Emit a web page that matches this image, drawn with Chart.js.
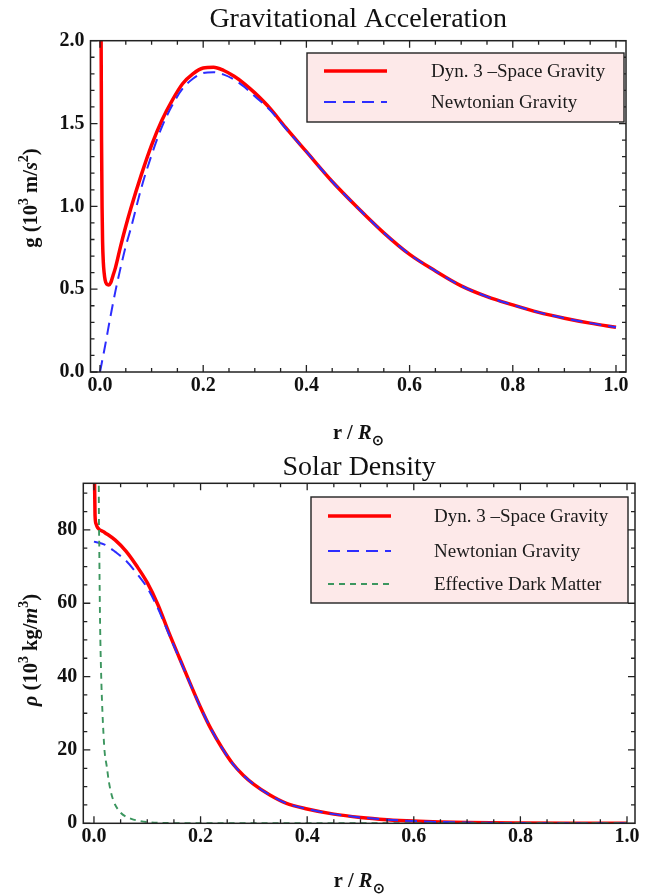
<!DOCTYPE html>
<html>
<head>
<meta charset="utf-8">
<script src="https://cdn.jsdelivr.net/npm/chart.js@4.4.1/dist/chart.umd.min.js"></script>
<style>
html, body { margin: 0; padding: 0; background: #fff; width: 645px; height: 896px; overflow: hidden; }
canvas { position: absolute; left: 0; }
#grav { top: 0; }
#dens { top: 448px; }
</style>
</head>
<body>
<canvas id="grav" width="645" height="448"></canvas>
<canvas id="dens" width="645" height="448"></canvas>
<script>
// values (r in units of solar radius)
const rG3 = [0.0015, 0.0022, 0.003, 0.004, 0.005, 0.0065, 0.008, 0.010, 0.013, 0.017, 0.021, 0.025, 0.03, 0.04, 0.05, 0.06, 0.08, 0.10, 0.12, 0.14, 0.16, 0.18, 0.20, 0.22, 0.24, 0.26, 0.28, 0.30, 0.33, 0.36, 0.40, 0.45, 0.50, 0.55, 0.60, 0.65, 0.70, 0.75, 0.80, 0.85, 0.90, 0.95, 1.00];
const g3  = [2.6, 2.0, 1.4, 1.0, 0.79, 0.66, 0.6, 0.555, 0.53, 0.525, 0.54, 0.58, 0.63, 0.76, 0.88, 0.99, 1.19, 1.37, 1.52, 1.64, 1.74, 1.80, 1.835, 1.84, 1.82, 1.785, 1.74, 1.685, 1.59, 1.475, 1.33, 1.15, 0.99, 0.84, 0.71, 0.61, 0.52, 0.455, 0.405, 0.36, 0.325, 0.295, 0.27];

const rGN = [0, 0.01, 0.02, 0.03, 0.04, 0.05, 0.06, 0.08, 0.10, 0.12, 0.14, 0.16, 0.18, 0.20, 0.22, 0.24, 0.26, 0.28, 0.30, 0.33, 0.36, 0.40, 0.45, 0.50, 0.55, 0.60, 0.65, 0.70, 0.75, 0.80, 0.85, 0.90, 0.95, 1.00];
const gN  = [0, 0.16, 0.33, 0.49, 0.63, 0.76, 0.87, 1.11, 1.31, 1.48, 1.61, 1.71, 1.77, 1.805, 1.81, 1.795, 1.765, 1.72, 1.665, 1.58, 1.47, 1.33, 1.15, 0.99, 0.84, 0.71, 0.61, 0.52, 0.455, 0.405, 0.36, 0.325, 0.295, 0.27];

const rRho3 = [0.0005, 0.002, 0.004, 0.007, 0.02, 0.04, 0.06, 0.08, 0.10, 0.12, 0.14, 0.16, 0.18, 0.20, 0.22, 0.24, 0.26, 0.28, 0.30, 0.33, 0.36, 0.40, 0.45, 0.50, 0.55, 0.60, 0.65, 0.70, 0.80, 0.90, 1.00];
const rho3  = [100, 84, 81.6, 80.6, 79.3, 77.2, 74.2, 70.2, 65.6, 59.6, 52.2, 45.2, 38.3, 31.6, 25.6, 20.6, 16.3, 13.1, 10.6, 7.7, 5.5, 3.9, 2.5, 1.6, 1.0, 0.6, 0.35, 0.2, 0.08, 0.03, 0.01];

const rRhoN = [0, 0.02, 0.04, 0.06, 0.08, 0.10, 0.12, 0.14, 0.16, 0.18, 0.20, 0.22, 0.24, 0.26, 0.28, 0.30, 0.33, 0.36, 0.40, 0.45, 0.50, 0.55, 0.60, 0.65, 0.70, 0.80, 0.90, 1.00];
const rhoN  = [76.8, 76.0, 74.0, 71.6, 68.2, 64.2, 58.6, 51.8, 45.0, 38.2, 31.6, 25.6, 20.6, 16.3, 13.1, 10.6, 7.7, 5.5, 3.9, 2.5, 1.6, 1.0, 0.6, 0.35, 0.2, 0.08, 0.03, 0.01];

const rDM   = [0.0085, 0.009, 0.010, 0.011, 0.012, 0.014, 0.016, 0.018, 0.020, 0.024, 0.028, 0.032, 0.036, 0.040, 0.050, 0.060, 0.070, 0.080, 0.100, 0.120, 0.150, 0.200, 0.300, 1.000];
const rhoDM = [140, 95, 75, 60, 50, 38, 30, 24, 19.5, 15.5, 11.3, 8.4, 6.4, 5.0, 2.9, 1.8, 1.2, 0.8, 0.35, 0.15, 0.06, 0.02, 0.005, 0];

const xTicks   = [0, 0.2, 0.4, 0.6, 0.8, 1.0];
const gTicks   = [0, 0.5, 1.0, 1.5, 2.0];
const rhoTicks = [0, 20, 40, 60, 80];

const labels = ["Dyn. 3 \u2013Space Gravity", "Newtonian Gravity", "Effective Dark Matter"];

const SERIF = '"Liberation Serif", "Times New Roman", serif';
const RED = 'rgb(255,0,0)', BLUE = 'rgb(45,45,255)', GREEN = 'rgb(60,150,95)';

function pts(xs, ys) { return xs.map((x, i) => ({x: x, y: ys[i]})); }

function range(a, b, step) {
    let out = [];
    for (let v = a; v <= b + 1e-9; v += step) out.push(+v.toFixed(4));
    return out;
}

// bold serif text with sup/sub pieces, centred on (x,y)
function drawRich(ctx, parts, x, y, size, rotate) {
    const fontOf = p => (p.i ? 'italic ' : '') + 'bold ' + ((p.sup || p.sub) ? Math.round(size * 0.68) : size) + 'px ' + SERIF;
    ctx.save();
    ctx.translate(x, y);
    if (rotate) ctx.rotate(-Math.PI / 2);
    ctx.textAlign = 'left';
    ctx.textBaseline = 'alphabetic';
    let total = 0;
    parts.forEach(p => { ctx.font = fontOf(p); total += ctx.measureText(p.t).width; });
    let cx = -total / 2;
    parts.forEach(p => {
        ctx.font = fontOf(p);
        let dy = p.sup ? -size * 0.42 : (p.sub ? size * 0.28 : 0);
        ctx.fillText(p.t, cx, size * 0.33 + dy);
        cx += ctx.measureText(p.t).width;
    });
    ctx.restore();
}

function framePlugin(cfg) {
    return {
        id: 'frame',
        afterDatasetsDraw(chart) {
            const ctx = chart.ctx, a = chart.chartArea;
            const xs = chart.scales.x, ys = chart.scales.y;
            ctx.save();
            ctx.strokeStyle = '#222';
            ctx.lineWidth = 1.3;
            ctx.setLineDash([]);
            ctx.beginPath();
            const tickX = (v, len) => {
                const p = xs.getPixelForValue(v);
                ctx.moveTo(p, a.bottom); ctx.lineTo(p, a.bottom - len);
                ctx.moveTo(p, a.top); ctx.lineTo(p, a.top + len);
            };
            const tickY = (v, len) => {
                const p = ys.getPixelForValue(v);
                ctx.moveTo(a.left, p); ctx.lineTo(a.left + len, p);
                ctx.moveTo(a.right, p); ctx.lineTo(a.right - len, p);
            };
            cfg.xMinor.forEach(v => tickX(v, 4));
            xTicks.forEach(v => tickX(v, 7));
            cfg.yMinor.forEach(v => tickY(v, 4));
            cfg.yMajor.forEach(v => tickY(v, 7));
            ctx.stroke();
            ctx.lineWidth = 1.5;
            ctx.strokeRect(a.left, a.top, a.right - a.left, a.bottom - a.top);

            // legend box
            const L = cfg.legend;
            ctx.fillStyle = '#fde9e9';
            ctx.fillRect(L.x1, L.y1, L.x2 - L.x1, L.y2 - L.y1);
            ctx.strokeStyle = '#222';
            ctx.lineWidth = 1.4;
            ctx.strokeRect(L.x1, L.y1, L.x2 - L.x1, L.y2 - L.y1);
            chart.data.datasets.forEach((d, i) => {
                const y = L.rows[i];
                ctx.strokeStyle = d.borderColor;
                ctx.lineWidth = d.borderWidth;
                ctx.setLineDash(d.borderDash || []);
                ctx.beginPath();
                ctx.moveTo(L.lx1, y); ctx.lineTo(L.lx2, y);
                ctx.stroke();
                ctx.setLineDash([]);
                ctx.fillStyle = '#1a1a1a';
                ctx.font = '19px ' + SERIF;
                ctx.textAlign = 'left';
                ctx.textBaseline = 'middle';
                ctx.fillText(d.label, L.tx, y + 1);
            });

            // title and axis titles
            ctx.fillStyle = '#111';
            ctx.font = '28px ' + SERIF;
            ctx.textAlign = 'center';
            ctx.textBaseline = 'middle';
            ctx.fillText(cfg.title, (a.left + a.right) / 2, cfg.titleY);
            drawRich(ctx, cfg.yTitle, cfg.yTitlePos[0], cfg.yTitlePos[1], 20.5, true);
            drawRich(ctx, [{t: 'r / '}, {t: 'R', i: true}, {t: '\u2299', sub: true}], (a.left + a.right) / 2, cfg.xTitleY, 20.5, false);
            ctx.restore();
        }
    };
}

function lineSet(label, xs, ys, color, width, dash, order) {
    return {
        label: label, data: pts(xs, ys), borderColor: color, borderWidth: width,
        borderDash: dash, pointRadius: 0, fill: false, order: order,
        cubicInterpolationMode: 'monotone'
    };
}

function makeChart(id, datasets, o) {
    const tickFont = {family: SERIF, weight: 'bold', size: 20};
    return new Chart(document.getElementById(id), {
        type: 'line',
        data: {datasets: datasets},
        options: {
            responsive: false,
            animation: false,
            events: [],
            layout: {padding: {left: 0, right: o.padRight, top: o.top, bottom: o.padBottom}},
            plugins: {legend: {display: false}, tooltip: {enabled: false}},
            scales: {
                x: {
                    type: 'linear', min: o.xmin, max: o.xmax,
                    grid: {display: false, drawTicks: false}, border: {display: false},
                    afterBuildTicks: s => { s.ticks = xTicks.map(v => ({value: v})); },
                    afterFit: s => { s.height = 30; },
                    ticks: {font: tickFont, color: '#111', padding: 2, maxRotation: 0, autoSkip: false,
                            callback: v => v.toFixed(1)}
                },
                y: {
                    type: 'linear', min: 0, max: o.ymax,
                    grid: {display: false, drawTicks: false}, border: {display: false},
                    afterBuildTicks: s => { s.ticks = o.yMajor.map(v => ({value: v})); },
                    afterFit: s => { s.width = o.left; },
                    ticks: {font: tickFont, color: '#111', padding: 6, autoSkip: false, callback: o.yFmt}
                }
            }
        },
        plugins: [framePlugin(o)]
    });
}

makeChart('grav', [
    lineSet(labels[0], rG3, g3, RED, 3.5, [], 2),
    lineSet(labels[1], rGN, gN, BLUE, 2, [12, 7], 1)
], {
    left: 90.5, padRight: 19, top: 40.7, padBottom: 46,
    xmin: -0.0184, xmax: 1.0194, ymax: 2.0,
    yMajor: gTicks, yMinor: range(0, 2, 0.1), xMinor: range(0, 1, 0.05),
    yFmt: v => v.toFixed(1),
    title: 'Gravitational Acceleration', titleY: 19.5,
    yTitle: [{t: 'g (10'}, {t: '3', sup: true}, {t: ' m/'}, {t: 's', i: true}, {t: '2', sup: true}, {t: ')'}],
    yTitlePos: [30, 198], xTitleY: 432,
    legend: {x1: 307, y1: 53, x2: 624, y2: 122, rows: [71, 102], lx1: 324, lx2: 387, tx: 431}
});

makeChart('dens', [
    lineSet(labels[0], rRho3, rho3, RED, 3.5, [], 3),
    lineSet(labels[1], rRhoN, rhoN, BLUE, 2, [12, 7], 2),
    lineSet(labels[2], rDM, rhoDM, GREEN, 1.9, [6, 5], 1)
], {
    left: 83.3, padRight: 10, top: 35.3, padBottom: 42.7,
    xmin: -0.020, xmax: 1.015, ymax: 92.7,
    yMajor: rhoTicks, yMinor: range(0, 90, 5), xMinor: range(0, 1, 0.05),
    yFmt: v => String(v),
    title: 'Solar Density', titleY: 19.5,
    yTitle: [{t: '\u03C1', i: true}, {t: ' (10'}, {t: '3', sup: true}, {t: ' kg/'}, {t: 'm', i: true}, {t: '3', sup: true}, {t: ')'}],
    yTitlePos: [30, 202], xTitleY: 432,
    legend: {x1: 311, y1: 49, x2: 628, y2: 155, rows: [68, 103, 136], lx1: 328, lx2: 391, tx: 434}
});
</script>
</body>
</html>
